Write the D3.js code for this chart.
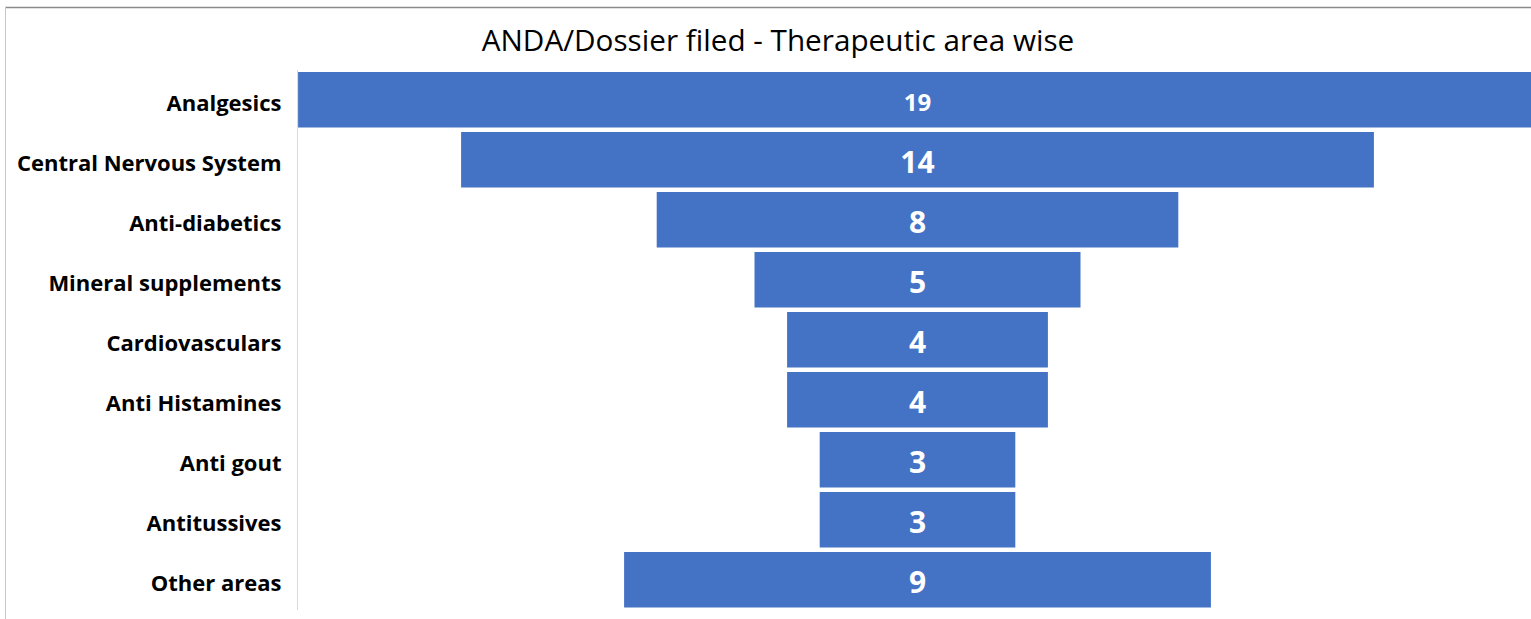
<!DOCTYPE html>
<html>
<head>
<meta charset="utf-8">
<script src="https://cdn.jsdelivr.net/npm/d3@7"></script>
<style>
  body { margin: 0; background: #fff; }
  svg { display: block; font-family: "Open Sans", "Noto Sans", sans-serif; }
</style>
</head>
<body>
<svg id="chart"></svg>
<script>
// data
const categories = ['Analgesics', 'Central Nervous System', 'Anti-diabetics', 'Mineral supplements',
  'Cardiovasculars', 'Anti Histamines', 'Anti gout', 'Antitussives', 'Other areas'];
const values = [19, 14, 8, 5, 4, 4, 3, 3, 9];

const width = 1531, height = 619;
const centerX = 917.5;
const unit = 65.2; // px per filing

const svg = d3.select('#chart').attr('width', width).attr('height', height);

// frame
svg.append('line').attr('x1', 5).attr('x2', width).attr('y1', 7.5).attr('y2', 7.5)
  .attr('stroke', '#8a8a8a').attr('stroke-width', 1.5);
svg.append('line').attr('x1', 5.5).attr('x2', 5.5).attr('y1', 7).attr('y2', height)
  .attr('stroke', '#c8c8c8').attr('stroke-width', 1);

const maxV = d3.max(values);
const x = d3.scaleLinear()
  .domain([-maxV / 2, maxV / 2])
  .range([centerX - maxV / 2 * unit, centerX + maxV / 2 * unit]);

const y = d3.scaleBand()
  .domain(categories)
  .range([69.75, 609.75])
  .paddingInner(0.075)
  .paddingOuter(0.0375);

const rows = categories.map((c, i) => ({ name: c, value: values[i] }));

// bars
svg.selectAll('rect.bar').data(rows).enter().append('rect')
  .attr('class', 'bar')
  .attr('x', d => x(-d.value / 2))
  .attr('width', d => x(d.value / 2) - x(-d.value / 2))
  .attr('y', d => y(d.name))
  .attr('height', y.bandwidth())
  .attr('fill', '#4472c4');

// value labels
svg.selectAll('text.val').data(rows).enter().append('text')
  .attr('class', 'val')
  .attr('x', centerX)
  .attr('y', d => y(d.name) + y.bandwidth() / 2 + 2.5)
  .attr('dy', '0.36em')
  .attr('text-anchor', 'middle')
  .attr('fill', '#fff')
  .style('font-weight', 'bold')
  .style('font-size', (d, i) => i === 0 ? '24px' : '30px')
  .text(d => d.value);

// category axis
const axis = d3.axisLeft(y).tickSize(0).tickPadding(16);
const gAxis = svg.append('g').attr('transform', 'translate(297.5,0)').call(axis);
gAxis.select('.domain').attr('stroke', '#d9d9d9').attr('d', 'M0,70V610');
gAxis.selectAll('text')
  .attr('dy', '0.5em')
  .style('font-family', '"Open Sans", "Noto Sans", sans-serif')
  .style('font-size', '22px')
  .style('font-weight', 'bold')
  .attr('fill', '#000');

// title
svg.append('text')
  .attr('x', 778)
  .attr('y', 51)
  .attr('text-anchor', 'middle')
  .style('font-size', '29.7px')
  .attr('fill', '#000')
  .text('ANDA/Dossier filed - Therapeutic area wise');
</script>
</body>
</html>
